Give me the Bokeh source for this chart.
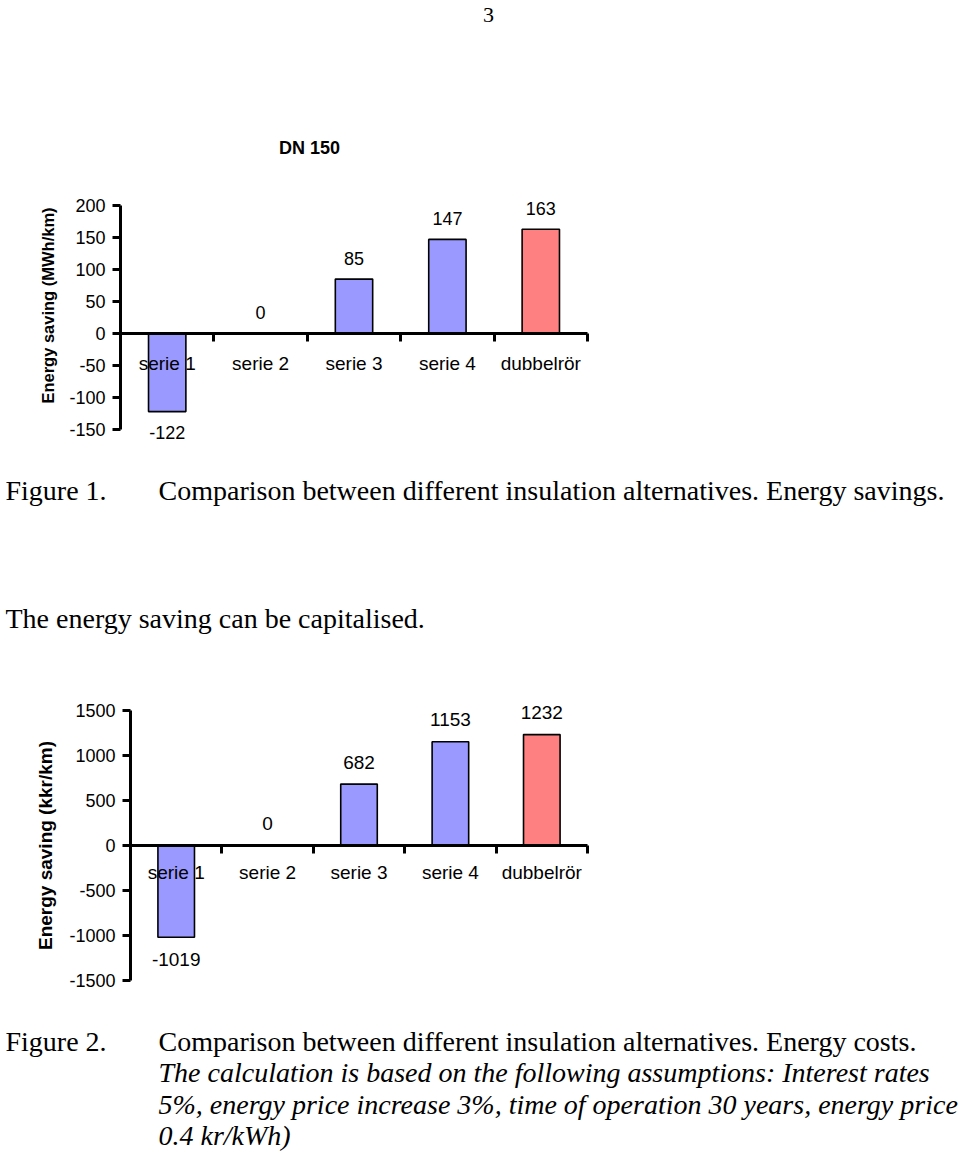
import math
from bokeh.plotting import figure
from bokeh.models import (Range1d, FixedTicker, ColumnDataSource, LabelSet, Label,
                          LinearAxis)
from bokeh.core.properties import value
from bokeh.embed import file_html
from bokeh.resources import INLINE

# ---------------- data ----------------
categories = ["serie 1", "serie 2", "serie 3", "serie 4", "dubbelrör"]
energy_mwh = [-122, 0, 85, 147, 163]
energy_kkr = [-1019, 0, 682, 1153, 1232]
bar_colors = ["#9999FF", "#9999FF", "#9999FF", "#9999FF", "#FF8080"]
yticks_mwh = [-150, -100, -50, 0, 50, 100, 150, 200]
yticks_kkr = [-1500, -1000, -500, 0, 500, 1000, 1500]

page_number = "3"
chart1_title = "DN 150"
ylabel1 = "Energy saving (MWh/km)"
ylabel2 = "Energy saving (kkr/km)"
fig1_label = "Figure 1."
fig1_caption = "Comparison between different insulation alternatives. Energy savings."
body_text = "The energy saving can be capitalised."
fig2_label = "Figure 2."
fig2_caption = "Comparison between different insulation alternatives. Energy costs."
fig2_notes = [
    "The calculation is based on the following assumptions: Interest rates",
    "5%, energy price increase 3%, time of operation 30 years, energy price",
    "0.4 kr/kWh)",
]

SANS = "Liberation Sans"
SERIF = "Liberation Serif"
W, H = 960, 1153

# layout of the two charts on the page (pixels): y-axis x, zero line y,
# pixels per category, pixels per value unit
C1 = dict(ax=120, zero=333, cw=93.4, ppu=0.64)
C2 = dict(ax=130, zero=845, cw=91.4, ppu=0.09)


def xr(c):
    return Range1d(-c["ax"] / c["cw"], (W - c["ax"]) / c["cw"])


def yr(c):
    return Range1d((c["zero"] - H) / c["ppu"], c["zero"] / c["ppu"])


p = figure(width=W, height=H, x_range=xr(C1), y_range=yr(C1),
           x_axis_location=None, y_axis_location=None,
           output_backend="svg", toolbar_location=None,
           min_border_left=0, min_border_right=0, min_border_top=0, min_border_bottom=0)
p.extra_x_ranges = {"x2": xr(C2)}
p.extra_y_ranges = {"y2": yr(C2)}
p.outline_line_color = None
p.xgrid.visible = False
p.ygrid.visible = False
p.background_fill_color = "white"
p.border_fill_color = "white"


def chart(values, yticks, ylabel, xname, yname, s):
    n = len(categories)
    xs = [i + 0.5 for i in range(n)]
    off = [s["voff"] if v >= 0 else -s["voff"] for v in values]
    src = ColumnDataSource(dict(x=xs, top=values, color=bar_colors,
                                label=[str(v) for v in values], off=off))
    p.vbar(x="x", top="top", bottom=0, width=0.4, source=src,
           fill_color="color", line_color="black", line_width=1.6,
           x_range_name=xname, y_range_name=yname)
    p.add_layout(LabelSet(x="x", y="top", text="label", y_offset="off", source=src,
                          x_range_name=xname, y_range_name=yname,
                          text_align="center", text_baseline="middle",
                          text_font=value(SANS), text_font_size=s["val_fs"],
                          text_color="black"))

    xa = LinearAxis(x_range_name=xname, y_range_name=yname)
    xa.fixed_location = 0
    xa.bounds = (0, n)
    xa.ticker = FixedTicker(ticks=xs, minor_ticks=[i + 1 for i in range(n)])
    xa.major_label_overrides = {x: c for x, c in zip(xs, categories)}
    xa.axis_line_width = 3
    xa.axis_line_color = "black"
    xa.major_tick_line_color = None
    xa.major_tick_out = 0
    xa.major_tick_in = 0
    xa.minor_tick_line_color = "black"
    xa.minor_tick_line_width = 3
    xa.minor_tick_out = 8
    xa.minor_tick_in = 0
    xa.major_label_standoff = s["cat_standoff"]
    xa.major_label_text_font = SANS
    xa.major_label_text_font_size = s["cat_fs"]
    xa.major_label_text_color = "black"
    p.add_layout(xa, "below")

    ya = LinearAxis(x_range_name=xname, y_range_name=yname)
    ya.fixed_location = 0
    ya.ticker = FixedTicker(ticks=yticks)
    ya.bounds = (yticks[0], yticks[-1])
    ya.major_label_overrides = {t: str(t) for t in yticks}
    ya.minor_tick_line_color = None
    ya.axis_line_width = 3
    ya.axis_line_color = "black"
    ya.major_tick_line_width = 3
    ya.major_tick_line_color = "black"
    ya.major_tick_out = 8
    ya.major_tick_in = 0
    ya.major_label_standoff = 7
    ya.major_label_text_font = SANS
    ya.major_label_text_font_size = s["tick_fs"]
    ya.major_label_text_color = "black"
    if s.get("axis_label", True):
        ya.axis_label = ylabel
        ya.axis_label_text_font = SANS
        ya.axis_label_text_font_style = "bold"
        ya.axis_label_text_font_size = s["ylab_fs"]
        ya.axis_label_text_color = "black"
        ya.axis_label_standoff = s["ylab_standoff"]
    p.add_layout(ya, "left")


def text(t, px, py, font=SERIF, size="28px", style="normal", align="left", angle=0.0):
    # page pixel position -> chart-1 data coordinates (frame covers the page)
    x = (px - C1["ax"]) / C1["cw"]
    y = (C1["zero"] - py) / C1["ppu"]
    p.add_layout(Label(x=x, y=y, text=t, text_font=font, text_font_size=size,
                       text_font_style=style, text_align=align, angle=angle,
                       text_baseline="middle", text_color="black"))


chart(energy_mwh, yticks_mwh, ylabel1, "default", "default",
      dict(voff=21, val_fs="18px", cat_fs="19px", tick_fs="18px",
           axis_label=False, cat_standoff=11))
# y-axis title of chart 1 sits higher than the axis centre in the original
text(ylabel1, 47, 305, font=SANS, size="16.5px", style="bold", align="center",
     angle=math.pi / 2)

chart(energy_kkr, yticks_kkr, ylabel2, "x2", "y2",
      dict(voff=22, val_fs="19px", cat_fs="19px", tick_fs="18px",
           ylab_fs="19px", ylab_standoff=10, cat_standoff=8))

text(page_number, 488, 14, size="22px", align="center")
text(chart1_title, 309, 147, font=SANS, size="18px", style="bold", align="center")
text(fig1_label, 5, 490)
text(fig1_caption, 158, 490)
text(body_text, 5, 618)
text(fig2_label, 5, 1041)
text(fig2_caption, 158, 1041)
for i, line in enumerate(fig2_notes):
    text(line, 158, 1072 + i * 31.7, style="italic")

open("out.html", "w").write(file_html(p, INLINE))
